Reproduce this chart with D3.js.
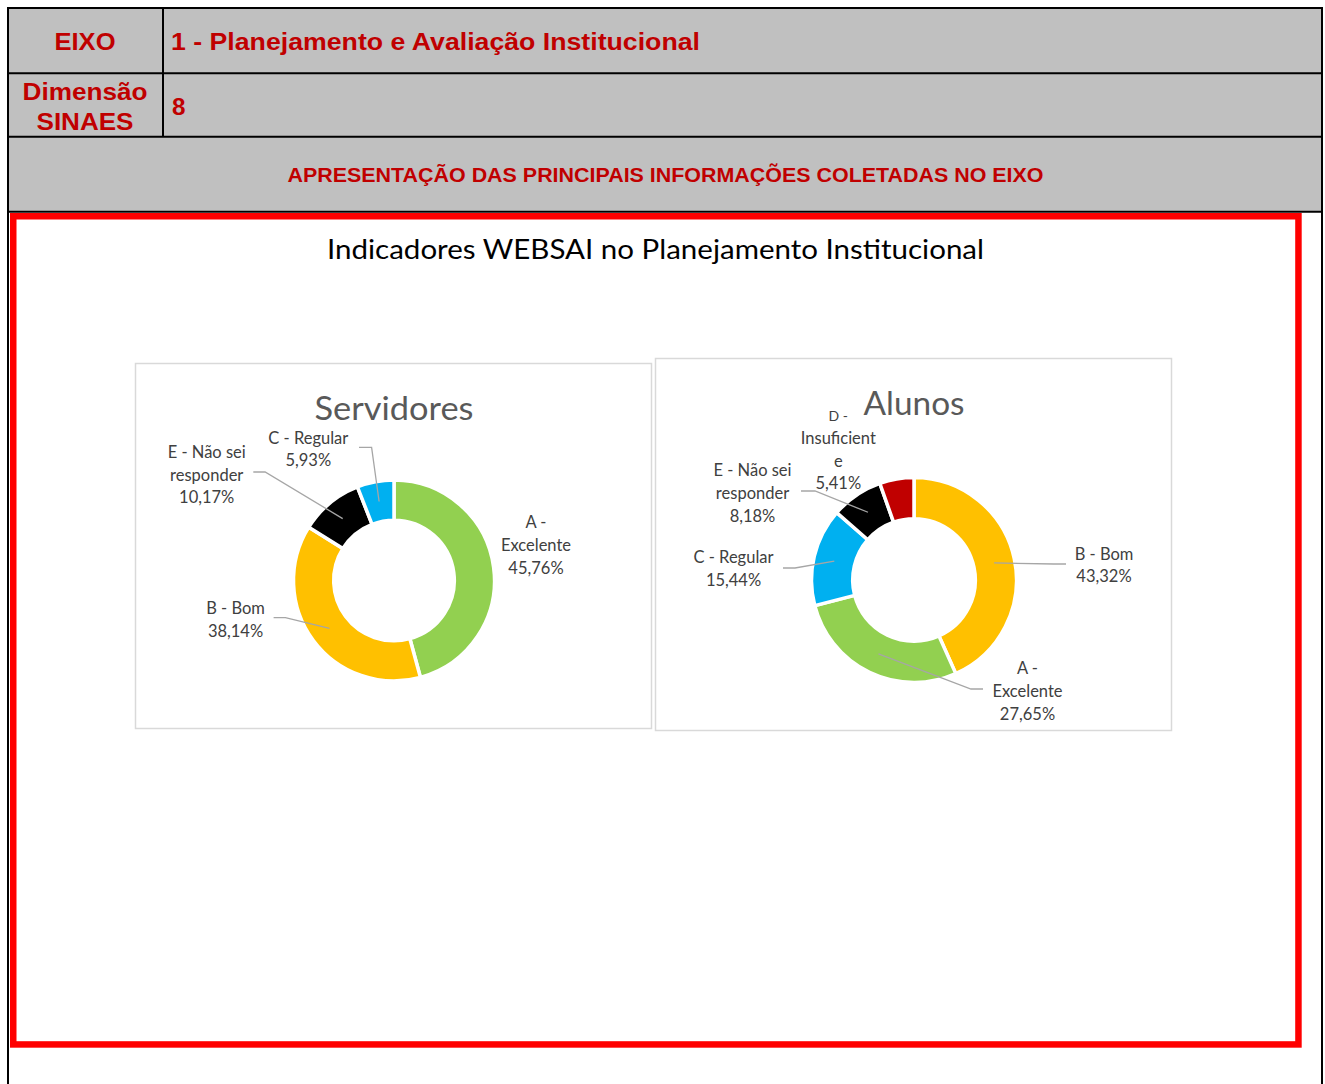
<!DOCTYPE html>
<html>
<head>
<meta charset="utf-8">
<script src="https://cdn.jsdelivr.net/npm/d3@7"></script>
<style>
  body { margin: 0; background: #fff; }
</style>
</head>
<body>
<div id="chart"></div>
<script>
// header texts
const headerAxis = 'EIXO';
const headerAxisName = '1 - Planejamento e Avaliação Institucional';
const headerDim = ['Dimensão', 'SINAES'];
const headerDimValue = '8';
const sectionTitle = 'APRESENTAÇÃO DAS PRINCIPAIS INFORMAÇÕES COLETADAS NO EIXO';
const chartTitle = 'Indicadores WEBSAI no Planejamento Institucional';

// donut 1
const servTitle = 'Servidores';
const servCategories = ['A - Excelente', 'B - Bom', 'E - Não sei responder', 'C - Regular'];
const servValues = [45.76, 38.14, 10.17, 5.93];

// donut 2
const alunTitle = 'Alunos';
const alunCategories = ['B - Bom', 'A - Excelente', 'C - Regular', 'E - Não sei responder', 'D - Insuficiente'];
const alunValues = [43.32, 27.65, 15.44, 8.18, 5.41];

const COLORS = {
  'A - Excelente': '#92D050',
  'B - Bom': '#FFC000',
  'C - Regular': '#00B0F0',
  'D - Insuficiente': '#C00000',
  'E - Não sei responder': '#000000'
};

// how excel wrapped the category names
const WRAP = {
  'A - Excelente': ['A -', 'Excelente'],
  'E - Não sei responder': ['E - Não sei', 'responder'],
  'D - Insuficiente': ['D -', 'Insuficient', 'e']
};

const W = 1325, H = 1084;
const RED = '#C00000';
const pct = d3.formatLocale({ decimal: ',', thousands: '.', grouping: [3], currency: ['', ''] }).format('.2f');

const svg = d3.select('#chart').append('svg')
  .attr('width', W)
  .attr('height', H)
  .style('display', 'block');

// ---- header table ----
svg.append('rect')
  .attr('x', 8).attr('y', 8)
  .attr('width', 1314).attr('height', 204)
  .attr('fill', '#C0C0C0');

const grid = svg.append('g').attr('stroke', '#000').attr('stroke-width', 2);
[8, 73.3, 136.7, 211.7].forEach(y => {
  grid.append('line').attr('x1', 7).attr('x2', 1323).attr('y1', y).attr('y2', y);
});
[8, 1322].forEach(x => {
  grid.append('line').attr('x1', x).attr('x2', x).attr('y1', 7).attr('y2', H);
});
grid.append('line').attr('x1', 163).attr('x2', 163).attr('y1', 8).attr('y2', 136.7);

function headText(txt, x, y, size, anchor, len) {
  const t = svg.append('text')
    .attr('x', x).attr('y', y)
    .attr('text-anchor', anchor)
    .attr('font-family', '"Liberation Sans", Arial, sans-serif')
    .attr('font-weight', 'bold')
    .attr('font-size', size)
    .attr('fill', RED)
    .text(txt);
  if (len) t.attr('textLength', len).attr('lengthAdjust', 'spacingAndGlyphs');
  return t;
}

headText(headerAxis, 85, 50, 24.5, 'middle', 61);
headText(headerAxisName, 171, 50, 24.5, 'start', 529);
headText(headerDim[0], 85, 99.5, 24.5, 'middle', 125);
headText(headerDim[1], 85, 129.5, 24.5, 'middle', 97);
headText(headerDimValue, 172, 114.5, 24.5, 'start', 13.5);
headText(sectionTitle, 665.5, 181.5, 20, 'middle', 756);

// red frame
svg.append('rect')
  .attr('x', 13.25).attr('y', 216.25)
  .attr('width', 1285.2).attr('height', 828.2)
  .attr('fill', 'none')
  .attr('stroke', '#FF0000')
  .attr('stroke-width', 6.5);

svg.append('text')
  .attr('x', 655.5).attr('y', 258.5)
  .attr('text-anchor', 'middle')
  .attr('font-family', 'Lato, sans-serif')
  .attr('font-size', 27)
  .attr('fill', '#000')
  .attr('textLength', 657).attr('lengthAdjust', 'spacingAndGlyphs')
  .text(chartTitle);

// ---- donuts ----
function donut(cfg) {
  const g = svg.append('g');

  g.append('rect')
    .attr('x', cfg.box[0] + 0.5).attr('y', cfg.box[1] + 0.5)
    .attr('width', cfg.box[2]).attr('height', cfg.box[3])
    .attr('fill', '#fff')
    .attr('stroke', '#D9D9D9')
    .attr('stroke-width', 1.5);

  g.append('text')
    .attr('x', cfg.cx).attr('y', cfg.titleY)
    .attr('text-anchor', 'middle')
    .attr('font-family', 'Lato, sans-serif')
    .attr('font-size', 33.5)
    .attr('fill', '#595959')
    .attr('textLength', cfg.titleLen).attr('lengthAdjust', 'spacingAndGlyphs')
    .text(cfg.title);

  const data = cfg.categories.map((c, i) => ({ cat: c, value: cfg.values[i] }));
  const pie = d3.pie().sort(null).value(d => d.value);
  const arc = d3.arc().innerRadius(cfg.rInner).outerRadius(cfg.rOuter);
  const mid = d3.arc().innerRadius(cfg.rInner + 1.75).outerRadius(cfg.rOuter - 1.75);
  const arcs = pie(data);

  const c = g.append('g').attr('transform', `translate(${cfg.cx},${cfg.cy})`);

  c.selectAll('path.slice')
    .data(arcs)
    .join('path')
    .attr('class', 'slice')
    .attr('d', arc)
    .attr('fill', d => COLORS[d.data.cat])
    .attr('stroke', '#fff')
    .attr('stroke-width', 3.5);

  // leader lines
  c.selectAll('polyline')
    .data(arcs.filter(d => cfg.labels[d.data.cat].leader))
    .join('polyline')
    .attr('fill', 'none')
    .attr('stroke', '#A6A6A6')
    .attr('stroke-width', 1.3)
    .attr('points', d => {
      const [sx, sy, ex] = cfg.labels[d.data.cat].leader;
      const p = mid.centroid(d);
      return [[sx, sy], [ex, sy], p].map(q => q.join(',')).join(' ');
    });

  // data labels
  const LH = 22.8;
  arcs.forEach(d => {
    const lay = cfg.labels[d.data.cat];
    const lines = (WRAP[d.data.cat] || [d.data.cat]).concat([pct(d.data.value) + '%']);
    const top = lay.dy - (lines.length - 1) * LH / 2;
    const t = c.append('text')
      .attr('text-anchor', 'middle')
      .attr('font-family', 'Lato, sans-serif')
      .attr('fill', '#404040');
    lines.forEach((ln, i) => {
      t.append('tspan')
        .attr('x', lay.dx)
        .attr('y', top + i * LH + 6)
        .attr('font-size', (i === 0 && lay.firstSize) ? lay.firstSize : 16.5)
        .text(ln);
    });
  });
}

donut({
  title: servTitle, titleLen: 159, titleY: 419.5,
  categories: servCategories, values: servValues,
  box: [135, 363, 516, 365],
  cx: 394, cy: 580.5, rOuter: 100.5, rInner: 60.3,
  labels: {
    'A - Excelente': { dx: 142, dy: -35.5, leader: null },
    'B - Bom': { dx: -158.5, dy: 39, leader: [-120.4, 37.2, -108.6] },
    'E - Não sei responder': { dx: -187.3, dy: -106, leader: [-140.7, -108.5, -128.9] },
    'C - Regular': { dx: -85.7, dy: -131.5, leader: [-35, -133.2, -22.4] }
  }
});

donut({
  title: alunTitle, titleLen: 101, titleY: 415,
  categories: alunCategories, values: alunValues,
  box: [655, 358, 516, 372],
  cx: 914, cy: 580, rOuter: 102.5, rInner: 61.3,
  labels: {
    'B - Bom': { dx: 190, dy: -15, leader: [152, -16, 140] },
    'A - Excelente': { dx: 113.5, dy: 111, leader: [69, 109, 57] },
    'C - Regular': { dx: -180.5, dy: -11.5, leader: [-131, -12, -119] },
    'E - Não sei responder': { dx: -161.5, dy: -87, leader: [-113, -89, -99] },
    'D - Insuficiente': { dx: -75.7, dy: -130.8, leader: null, firstSize: 14 }
  }
});
</script>
</body>
</html>
